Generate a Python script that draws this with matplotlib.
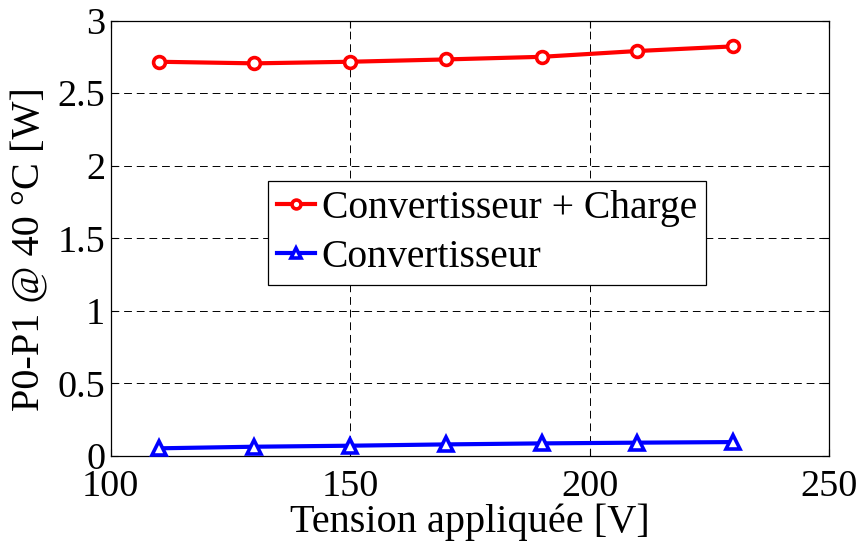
import numpy as np
import matplotlib
matplotlib.use('Agg')
import matplotlib.pyplot as plt
from matplotlib import rcParams

rcParams['font.family'] = ['Liberation Serif', 'DejaVu Serif']
rcParams['mathtext.fontset'] = 'stix'

# data
tension = [110, 130, 150, 170, 190, 210, 230]
conv_charge = [2.717, 2.706, 2.717, 2.733, 2.751, 2.791, 2.823]
conv = [0.053, 0.064, 0.071, 0.080, 0.087, 0.092, 0.096]

TICK_FS = 27.5
LABEL_FS = 29
LEG_FS = 28.5

fig = plt.figure(figsize=(8.63, 5.43), dpi=100)
ax = fig.add_axes([0.1283, 0.1602, 0.8323, 0.8017])

ax.plot(tension, conv_charge, color='#ff0000', linewidth=3, marker='o',
        markersize=8.5, markerfacecolor='white', markeredgewidth=2.6,
        label='Convertisseur + Charge', zorder=3)
ax.plot(tension, conv, color='#0000ff', linewidth=3, marker='^',
        markersize=10.5, markerfacecolor='white', markeredgewidth=2.6,
        label='Convertisseur', zorder=3)

ax.set_xlim(100, 250)
ax.set_ylim(0, 3)
ax.set_xticks([100, 150, 200, 250])
ax.set_yticks([0, 0.5, 1, 1.5, 2, 2.5, 3])
ax.set_yticklabels(['0', '0.5', '1', '1.5', '2', '2.5', '3'])
ax.tick_params(direction='in', labelsize=TICK_FS, length=5, width=0.8,
               top=True, right=True)
ax.tick_params(axis='x', pad=10)
ax.tick_params(axis='y', pad=4)
ax.grid(True, color='black', linestyle=(0, (8, 5)), linewidth=0.7)
for s in ax.spines.values():
    s.set_linewidth(0.9)

ax.set_xlabel('Tension appliquée [V]', fontsize=LABEL_FS)
ax.set_ylabel('P0-P1 @ 40 °C [W]', fontsize=LABEL_FS)
ax.xaxis.set_label_coords(0.5, -0.11)
ax.yaxis.set_label_coords(-0.087, 0.475)

leg = ax.legend(loc='upper left', bbox_to_anchor=(0.219, 0.632),
                borderaxespad=0, fontsize=LEG_FS, handlelength=0.96,
                handletextpad=0.18, borderpad=0.22, labelspacing=0.32,
                markerscale=0.75, fancybox=False, framealpha=1,
                edgecolor='black')
leg.get_frame().set_linewidth(0.9)

fig.savefig('out.png', dpi=100)
